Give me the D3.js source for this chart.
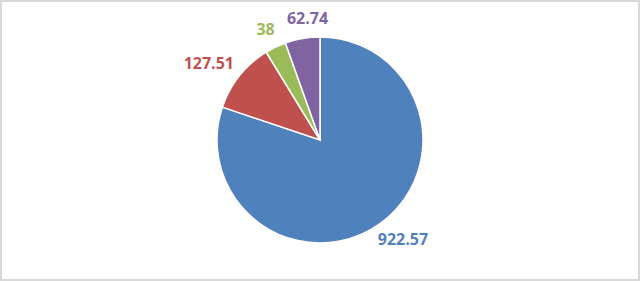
<!DOCTYPE html>
<html>
<head>
<meta charset="utf-8">
<script src="https://cdn.jsdelivr.net/npm/d3@7"></script>
<style>
  body { margin: 0; background: #fff; }
  svg { display: block; }
</style>
</head>
<body>
<svg id="chart" width="640" height="281"></svg>
<script>
const categories = ["A", "B", "C", "D"];
const values = [922.57, 127.51, 38, 62.74];
const labels = ["922.57", "127.51", "38", "62.74"];
const colors = ["#4f81bd", "#c0504d", "#9bbb59", "#8064a2"];

const width = 640;
const height = 281;
const cx = 320, cy = 140, radius = 103;

const svg = d3.select("#chart");

// chart frame
svg.append("rect")
    .attr("x", 1).attr("y", 1)
    .attr("width", width - 2).attr("height", height - 2)
    .attr("fill", "#fff")
    .attr("stroke", "#d9d9d9")
    .attr("stroke-width", 2);

const data = categories.map((c, i) => ({ cat: c, value: values[i], label: labels[i], color: colors[i] }));

const pie = d3.pie().value(d => d.value).sort(null);
const arcs = pie(data);
const arc = d3.arc().innerRadius(0).outerRadius(radius);

const g = svg.append("g").attr("transform", `translate(${cx},${cy})`);

g.selectAll("path")
    .data(arcs)
    .enter()
    .append("path")
    .attr("d", arc)
    .attr("fill", d => d.data.color)
    .attr("stroke", "#fff")
    .attr("stroke-width", 1.5);

// labels outside end, box centre pushed out along the mid angle
const labelR = radius + 14;
const pad = 20;
const lh = 11.5;
const texts = g.selectAll("text")
    .data(arcs)
    .enter()
    .append("text")
    .attr("font-family", "'Open Sans', sans-serif")
    .attr("font-weight", "bold")
    .attr("font-size", 16)
    .attr("fill", d => d.data.color)
    .attr("text-anchor", "middle")
    .attr("dy", "0.36em")
    .text(d => d.data.label);

function place(node, a) {
    const w = node.getComputedTextLength();
    const x = Math.sin(a) * (labelR + w / 2);
    const y = -Math.cos(a) * (labelR + lh / 2);
    d3.select(node).attr("x", x).attr("y", y);
    return { left: x - w / 2, right: x + w / 2, top: y - lh / 2, bottom: y + lh / 2 };
}

function tooClose(b, p) {
    const vert = b.top < p.bottom && b.bottom > p.top;
    return vert && b.left < p.right + pad && b.right > p.left - pad;
}

let prev = null;
texts.each(function(d) {
    let a = (d.startAngle + d.endAngle) / 2;
    let box = place(this, a);
    // nudge along the arc when too close to the previous label
    let guard = 0;
    while (prev && tooClose(box, prev) && guard < 300) {
        a += 0.002;
        box = place(this, a);
        guard++;
    }
    prev = box;
});
</script>
</body>
</html>
